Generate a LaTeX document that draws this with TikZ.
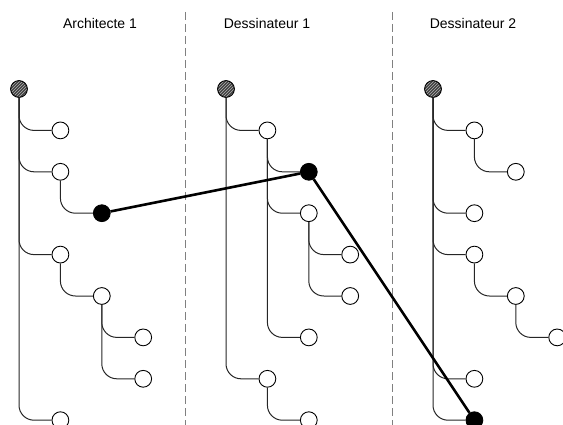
\documentclass[tikz,border=0pt]{standalone}
\usepackage{fontspec}
\setmainfont{Liberation Sans}
\usetikzlibrary{patterns}
\begin{document}
\begin{tikzpicture}[x=1pt,y=-1pt,
  open/.style={circle,draw,fill=white,line width=0.9pt,minimum size=16.8pt,inner sep=0pt},
  hit/.style={circle,draw,fill=black,line width=0.9pt,minimum size=16.8pt,inner sep=0pt},
  rootnode/.style={circle,draw,line width=0.9pt,minimum size=16.8pt,inner sep=0pt,
     preaction={fill=black!75},pattern=north east lines,pattern color=white!70!black},
  branch/.style={line width=1pt,draw=black!85,rounded corners=15pt},
  link/.style={line width=2.6pt},
  sep/.style={gray,line width=0.9pt,dash pattern=on 8pt off 4pt},
  lbl/.style={font=\fontsize{14}{16}\selectfont,inner sep=0pt}]
\useasboundingbox (0,0) rectangle (563,425);
% separators
\coordinate (s1t) at (185,12); \coordinate (s1b) at (185,425);
\coordinate (s2t) at (392,12); \coordinate (s2b) at (392,425);
\draw[sep] (s1t) -- (s1b);
\draw[sep] (s2t) -- (s2b);
% labels
\node[lbl] (la) at (100,23) {Architecte 1};
\node[lbl] (lb) at (267,23) {Dessinateur 1};
\node[lbl] (lc) at (473,23) {Dessinateur 2};
% column 1
\node[rootnode] (a0) at (19,89) {};
\node[open] (a1) at (60.4,130.4) {};
\node[open] (a2) at (60.4,171.8) {};
\node[hit]  (a3) at (101.8,213.2) {};
\node[open] (a4) at (60.4,254.6) {};
\node[open] (a5) at (101.8,296) {};
\node[open] (a6) at (143.2,337.4) {};
\node[open] (a7) at (143.2,378.8) {};
\node[open] (a8) at (60.4,420.2) {};
% column 2
\node[rootnode] (b0) at (226,89) {};
\node[open] (b1) at (267.4,130.4) {};
\node[hit]  (b2) at (308.8,171.8) {};
\node[open] (b3) at (308.8,213.2) {};
\node[open] (b4) at (350.2,254.6) {};
\node[open] (b5) at (350.2,296) {};
\node[open] (b6) at (308.8,337.4) {};
\node[open] (b7) at (267.4,378.8) {};
\node[open] (b8) at (308.8,420.2) {};
% column 3
\node[rootnode] (c0) at (433,89) {};
\node[open] (c1) at (474.4,130.4) {};
\node[open] (c2) at (515.8,171.8) {};
\node[open] (c3) at (474.4,213.2) {};
\node[open] (c4) at (474.4,254.6) {};
\node[open] (c5) at (515.8,296) {};
\node[open] (c6) at (557.2,337.4) {};
\node[open] (c7) at (474.4,378.8) {};
\node[hit]  (c8) at (474.4,420.2) {};
% branches
\foreach \p/\c in {a0/a1,a0/a2,a2/a3,a0/a4,a4/a5,a5/a6,a5/a7,a0/a8,
                   b0/b1,b1/b2,b1/b3,b3/b4,b3/b5,b1/b6,b0/b7,b7/b8,
                   c0/c1,c1/c2,c0/c3,c0/c4,c4/c5,c5/c6,c0/c7,c0/c8}
  \draw[branch] (\p) |- (\c);
% links
\draw[link] (a3) -- (b2);
\draw[link] (b2) -- (c8);
\end{tikzpicture}
\end{document}
